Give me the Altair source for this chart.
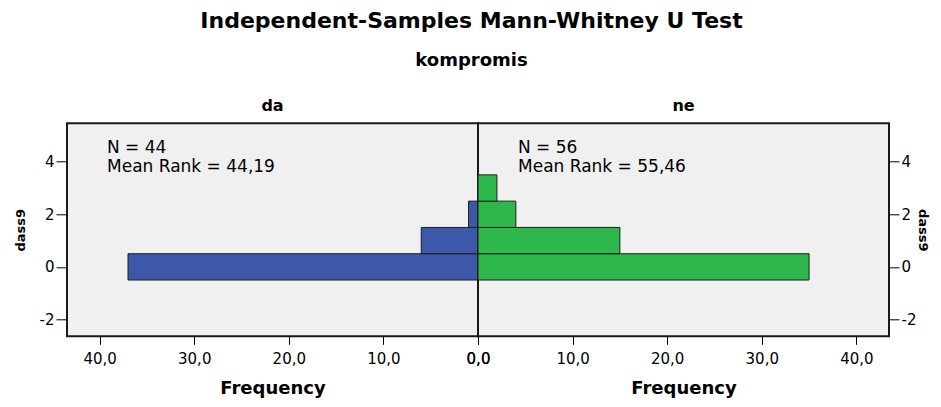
import altair as alt
import pandas as pd

# ---- data ----
dass9_values = [0, 1, 2, 3]
freq_da = [37, 6, 1, 0]
freq_ne = [35, 15, 4, 2]
groups = ["da", "ne"]
group_n = [44, 56]
mean_rank = ["44,19", "55,46"]
x_ticks = [0, 10, 20, 30, 40]
y_ticks = [-2, 0, 2, 4]
colors = ["#3D57A9", "#2EB84B"]

FONT = "DejaVu Sans"
X_LABEL_EXPR = "replace(format(datum.value, '.1f'), '.', ',')"
Y_LABEL_EXPR = "datum.value < 0 ? '-' + abs(datum.value) : '' + datum.value"


def panel(i, freqs, reverse, orient, y_tick, y_title_pad):
    df = pd.DataFrame({"dass9": dass9_values, "freq": freqs})
    df = df[df["freq"] > 0]
    bars = (
        alt.Chart(df)
        .transform_calculate(lo="datum.dass9 - 0.5", hi="datum.dass9 + 0.5")
        .mark_rect(color=colors[i], stroke="#1e1e1e", strokeWidth=1)
        .encode(
            x=alt.X(
                "freq:Q",
                scale=alt.Scale(domain=[0, 43.45], reverse=reverse, nice=False, zero=True),
                axis=alt.Axis(
                    values=x_ticks,
                    labelExpr=X_LABEL_EXPR,
                    tickSize=8,
                    labelPadding=7,
                    labelFlush=False,
                    labelOverlap=False,
                    titleFontSize=18,
                    titlePadding=13.5,
                ),
                title="Frequency",
            ),
            x2=alt.datum(0),
            y=alt.Y(
                "lo:Q",
                scale=alt.Scale(domain=[-2.64, 5.46], nice=False, zero=False),
                axis=alt.Axis(
                    orient=orient,
                    values=y_ticks,
                    labelExpr=Y_LABEL_EXPR,
                    tickSize=y_tick,
                    labelPadding=2,
                    titleFontSize=13,
                    titlePadding=y_title_pad,
                ),
                title="dass9",
            ),
            y2="hi:Q",
        )
    )
    lines = [f"N = {group_n[i]}", f"Mean Rank = {mean_rank[i]}"]
    one = pd.DataFrame({"k": [0]})
    t1 = (
        alt.Chart(one)
        .mark_text(align="left", baseline="alphabetic", font=FONT, fontSize=17, color="black")
        .encode(x=alt.value(40), y=alt.value(30), text=alt.value(lines[0]))
    )
    t2 = (
        alt.Chart(one)
        .mark_text(align="left", baseline="alphabetic", font=FONT, fontSize=17, color="black")
        .encode(x=alt.value(40), y=alt.value(48.4), text=alt.value(lines[1]))
    )
    return alt.layer(bars, t1, t2).properties(
        width=411,
        height=213,
        title=alt.TitleParams(
            groups[i], font=FONT, fontSize=16, fontWeight="bold", color="black",
            anchor="middle", offset=9,
        ),
    )


left = panel(0, freq_da, True, "left", 11, 12)
right = panel(1, freq_ne, False, "right", 10, 0)

chart = (
    alt.hconcat(left, right, spacing=0, bounds="flush")
    .resolve_scale(x="independent", y="independent")
    .properties(
        title=alt.TitleParams(
            "Independent-Samples Mann-Whitney U Test",
            subtitle="kompromis",
            font=FONT,
            fontSize=22,
            fontWeight="bold",
            color="black",
            subtitleFont=FONT,
            subtitleFontSize=18,
            subtitleFontWeight="bold",
            subtitleColor="black",
            subtitlePadding=19,
            anchor="middle",
            offset=26,
        ),
        autosize=alt.AutoSizeParams(type="none"),
        padding={"left": 59, "top": 115.3, "right": 866, "bottom": 275.7},
        background="white",
    )
    .configure_view(fill="#F0F0F0", stroke="#1a1a1a", strokeWidth=2)
    .configure_axis(
        labelFont=FONT,
        labelFontSize=15,
        labelColor="black",
        tickColor="black",
        tickWidth=1,
        domain=False,
        grid=False,
        titleFont=FONT,
        titleFontWeight="bold",
        titleColor="black",
    )
)

chart.save("out.html", embed_options={"renderer": "svg", "actions": False})
